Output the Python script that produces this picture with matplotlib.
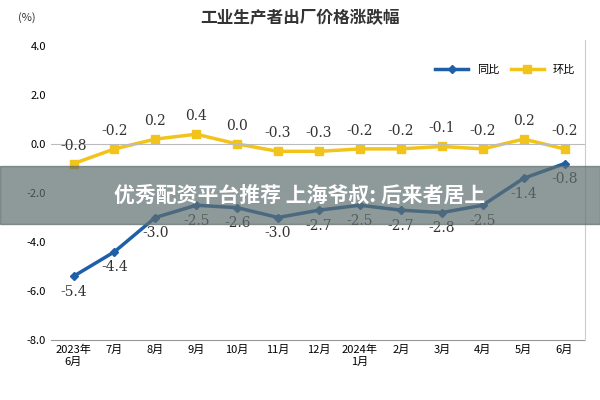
import matplotlib.pyplot as plt
import matplotlib.patches as patches
from matplotlib import font_manager

# pick a sans CJK font from what is registered
cjk = sorted({f.name for f in font_manager.fontManager.ttflist if 'Sans CJK' in f.name})
pref = [n for n in cjk if n.endswith('SC')] or cjk
plt.rcParams['font.family'] = 'sans-serif'
plt.rcParams['font.sans-serif'] = pref[:1] + ['DejaVu Sans']

months = ['2023年\n6月', '7月', '8月', '9月', '10月', '11月', '12月', '2024年\n1月',
          '2月', '3月', '4月', '5月', '6月']
yoy = [-5.4, -4.4, -3.0, -2.5, -2.6, -3.0, -2.7, -2.5, -2.7, -2.8, -2.5, -1.4, -0.8]
mom = [-0.8, -0.2, 0.2, 0.4, 0.0, -0.3, -0.3, -0.2, -0.2, -0.1, -0.2, 0.2, -0.2]

BLUE = '#1f5fa8'
GOLD = '#f2c31b'

fig = plt.figure(figsize=(6, 4), dpi=100)
ax = fig.add_axes([0.085, 0.15, 0.89, 0.735])
x = list(range(len(months)))

ax.plot(x, yoy, color=BLUE, lw=2.5, marker='D', ms=4, label='同比')
ax.plot(x, mom, color=GOLD, lw=2.5, marker='s', ms=6, label='环比')
ax.axhline(0, color='#bbbbbb', lw=0.8)

for i, v in enumerate(yoy):
    ax.text(i, v - 0.35, f'{v:.1f}', ha='center', va='top', fontsize=10,
            family='DejaVu Serif', color='#333333')
for i, v in enumerate(mom):
    ax.text(i, v + 0.45, f'{v:.1f}', ha='center', va='bottom', fontsize=10,
            family='DejaVu Serif', color='#333333')

ax.set_xlim(-0.55, len(months) - 0.5)
ax.set_ylim(-8, 4)
ax.set_yticks([4, 2, 0, -2, -4, -6, -8])
ax.set_yticklabels([f'{t:.1f}' for t in [4, 2, 0, -2, -4, -6, -8]], fontsize=8)
ax.set_xticks(x)
ax.set_xticklabels(months, fontsize=8, va='top')
ax.tick_params(length=0)
for s in ['top', 'left', 'right']:
    ax.spines[s].set_visible(False)
ax.spines['bottom'].set_color('#999999')

ax.legend(loc='upper right', bbox_to_anchor=(1.0, 0.97), ncol=2, frameon=False,
          fontsize=8, handlelength=3, columnspacing=1)
fig.text(0.5, 0.955, '工业生产者出厂价格涨跌幅', ha='center', va='center', fontsize=12,
         weight='bold', color='#333333')
fig.text(0.045, 0.955, '(%)', ha='center', va='center', fontsize=8, color='#333333')
fig.add_artist(plt.Line2D([0.975, 0.975], [0.15, 0.9], color='#cccccc', lw=0.8))

# watermark banner
fig.add_artist(patches.Rectangle((0, 0.44), 1, 0.145, transform=fig.transFigure,
                                 color='#5f6e6e', alpha=0.7, zorder=10))
fig.text(0.5, 0.512, '优秀配资平台推荐 上海爷叔: 后来者居上', ha='center', va='center',
         fontsize=15, weight='bold', color='white', zorder=11)

fig.savefig('out.png')
